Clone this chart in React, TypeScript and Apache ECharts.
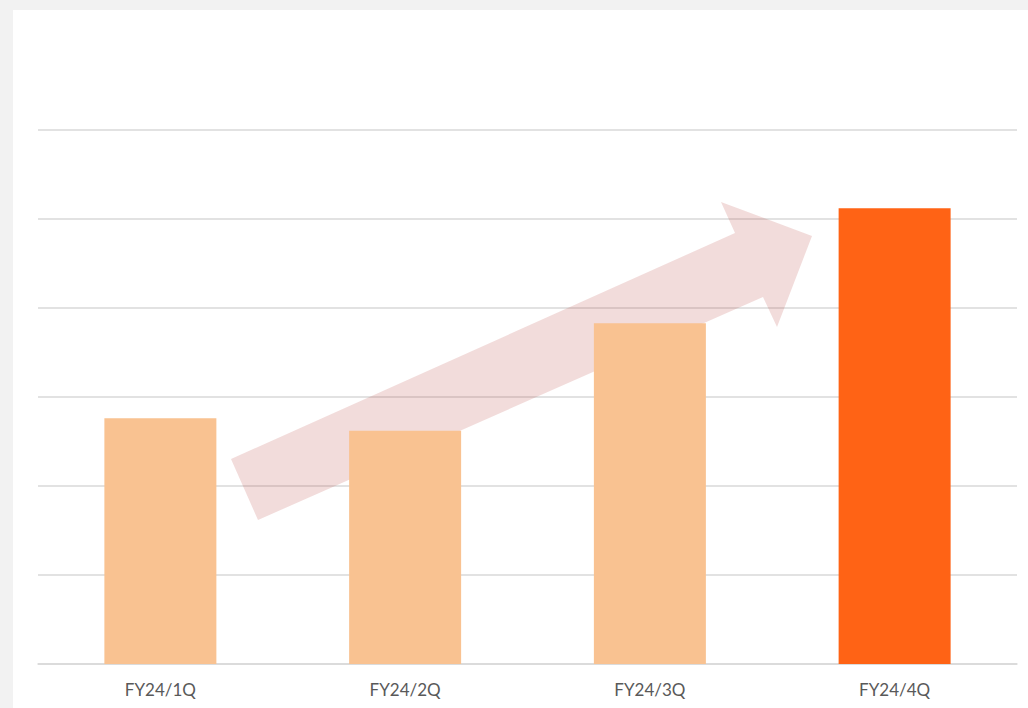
import React, { useEffect, useRef } from "react";
import * as echarts from "echarts";

const categories = ["FY24/1Q", "FY24/2Q", "FY24/3Q", "FY24/4Q"];
const values = [2.76, 2.62, 3.83, 5.12];
const barColors = ["#F9C291", "#F9C291", "#F9C291", "#FF6315"];
const arrowPoints: number[][] = [
  [231, 459],
  [735, 233],
  [721, 202],
  [812, 236],
  [777, 327],
  [763, 297],
  [258, 520],
];

export default function App() {
  const ref = useRef<HTMLDivElement>(null);
  useEffect(() => {
    if (!ref.current) return;
    const chart = echarts.init(ref.current, undefined, { renderer: "svg" });
    chart.setOption({
      animation: false,
      grid: { left: 38, right: 11, top: 130, bottom: 44, containLabel: false },
      xAxis: {
        type: "category",
        data: categories,
        axisTick: { show: false },
        axisLine: { lineStyle: { color: "#d9d9d9", width: 1.5 } },
        axisLabel: {
          color: "#595959",
          fontFamily: "Lato",
          fontSize: 17,
          margin: 17,
        },
      },
      yAxis: {
        type: "value",
        min: 0,
        max: 6,
        interval: 1,
        axisLabel: { show: false },
        axisLine: { show: false },
        axisTick: { show: false },
        splitLine: { lineStyle: { color: "#d9d9d9", width: 1.5 } },
      },
      graphic: [
        {
          type: "polygon",
          z: 1,
          shape: { points: arrowPoints },
          style: { fill: "rgba(192,80,77,0.2)" },
        },
      ],
      series: [
        {
          type: "bar",
          z: 2,
          barWidth: 112,
          data: values.map((v, i) => ({ value: v, itemStyle: { color: barColors[i] } })),
        },
      ],
    });
    return () => chart.dispose();
  }, []);
  return (
    <div style={{ position: "fixed", left: 0, top: 0, width: 1028, height: 708, background: "#f2f2f2" }}>
      <div style={{ position: "absolute", left: 13, top: 10, width: 1015, height: 698, background: "#ffffff" }} />
      <div ref={ref} style={{ position: "absolute", left: 0, top: 0, width: 1028, height: 708 }} />
    </div>
  );
}
